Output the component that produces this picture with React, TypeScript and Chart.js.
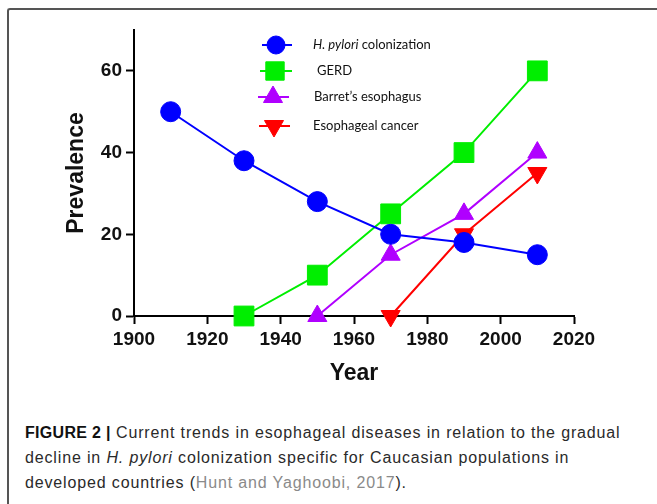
import React, { useEffect, useRef } from "react";
import { Chart, registerables } from "chart.js";
import { drawPoint } from "chart.js/helpers";

Chart.register(...registerables);

const SERIES_NAMES = ["H. pylori colonization", "GERD", "Barret\u2019s esophagus", "Esophageal cancer"];
const HP_YEARS = [1910, 1930, 1950, 1970, 1990, 2010];
const HP_VALUES = [50, 38, 28, 20, 18, 15];
const GERD_YEARS = [1930, 1950, 1970, 1990, 2010];
const GERD_VALUES = [0, 10, 25, 40, 60];
const BARRETT_YEARS = [1950, 1970, 1990, 2010];
const BARRETT_VALUES = [0, 15, 25, 40];
const CANCER_YEARS = [1970, 1990, 2010];
const CANCER_VALUES = [0, 20, 35];
const Y_TICKS = [0, 20, 40, 60];
const X_TICKS = [1900, 1920, 1940, 1960, 1980, 2000, 2020];

const COLORS = ["#0000ff", "#00ee00", "#b000ff", "#ff0000"];

const pts = (xs: number[], ys: number[]) => xs.map((x, i) => ({ x, y: ys[i] }));

const legendPlugin = {
  id: "customLegend",
  afterDraw(chart: any) {
    const ctx = chart.ctx as CanvasRenderingContext2D;
    const rows = [
      { y: 45, x0: 262, x1: 292, mx: 276, tx: 313 },
      { y: 71, x0: 260, x1: 292, mx: 275, tx: 317 },
      { y: 97, x0: 258, x1: 289, mx: 273, tx: 314 },
      { y: 126, x0: 259, x1: 290, mx: 274, tx: 313 },
    ];
    chart.data.datasets.forEach((ds: any, i: number) => {
      const r = rows[i];
      ctx.save();
      ctx.strokeStyle = ds.borderColor;
      ctx.lineWidth = 2;
      ctx.beginPath();
      ctx.moveTo(r.x0, r.y);
      ctx.lineTo(r.x1, r.y);
      ctx.stroke();
      ctx.fillStyle = ds.pointBackgroundColor;
      ctx.strokeStyle = ds.pointBorderColor;
      ctx.lineWidth = 1;
      drawPoint(ctx, { pointStyle: ds.pointStyle, radius: ds.legendRadius, rotation: ds.pointRotation || 0, borderWidth: 1 }, r.mx, r.y);
      ctx.fillStyle = "#111";
      ctx.textBaseline = "middle";
      ctx.textAlign = "left";
      const name: string = ds.label;
      if (name.startsWith("H. pylori")) {
        ctx.font = "italic 13px Lato";
        const it = "H. pylori";
        ctx.fillText(it, r.tx, r.y);
        const w = ctx.measureText(it).width;
        ctx.font = "13px Lato";
        ctx.fillText(name.slice(it.length), r.tx + w, r.y);
      } else {
        ctx.font = "13px Lato";
        ctx.fillText(name, r.tx, r.y);
      }
      ctx.restore();
    });
  },
};

export default function App() {
  const ref = useRef<HTMLCanvasElement | null>(null);
  useEffect(() => {
    if (!ref.current) return;
    const tickFont = { family: "'Liberation Sans', Arial, sans-serif", size: 19, weight: "bold" as const };
    const titleFont = { family: "'Liberation Sans', Arial, sans-serif", size: 23, weight: "bold" as const };
    const mk = (i: number, data: any, style: string, radius: number, legendRadius: number, rotation = 0) => ({
      label: SERIES_NAMES[i],
      data,
      borderColor: COLORS[i],
      backgroundColor: COLORS[i],
      pointBackgroundColor: COLORS[i],
      pointBorderColor: COLORS[i],
      pointBorderWidth: 1,
      pointStyle: style,
      pointRadius: radius,
      pointRotation: rotation,
      legendRadius,
      borderWidth: 2,
      showLine: true,
      clip: false,
    });
    const chart = new Chart(ref.current, {
      type: "scatter",
      data: {
        datasets: [
          mk(0, pts(HP_YEARS, HP_VALUES), "circle", 10, 9),
          mk(1, pts(GERD_YEARS, GERD_VALUES), "rect", 14, 13),
          mk(2, pts(BARRETT_YEARS, BARRETT_VALUES), "triangle", 11, 11),
          mk(3, pts(CANCER_YEARS, CANCER_VALUES), "triangle", 11, 11, 180),
        ] as any,
      },
      options: {
        animation: false,
        responsive: false,
        maintainAspectRatio: false,
        layout: { padding: { left: 0, top: 30, right: 83, bottom: 0 } },
        plugins: { legend: { display: false }, tooltip: { enabled: false } },
        scales: {
          x: {
            type: "linear",
            min: 1900,
            max: 2020,
            afterBuildTicks: (s: any) => {
              s.ticks = X_TICKS.map((v) => ({ value: v }));
            },
            afterFit: (s: any) => {
              s.height = 84;
            },
            grid: { display: true, drawOnChartArea: false, drawTicks: true, tickLength: 8, tickWidth: 2, tickColor: "#000" },
            border: { display: true, color: "#000", width: 2 },
            ticks: { font: tickFont, color: "#111", padding: 4, maxRotation: 0, autoSkip: false, callback: (v: any) => String(v) },
            title: { display: true, text: "Year", font: titleFont, color: "#111", padding: { top: 0, bottom: 13 } },
          },
          y: {
            type: "linear",
            min: 0,
            max: 70,
            afterBuildTicks: (s: any) => {
              s.ticks = Y_TICKS.map((v) => ({ value: v }));
            },
            afterFit: (s: any) => {
              s.width = 134;
            },
            grid: { display: true, drawOnChartArea: false, drawTicks: true, tickLength: 8, tickWidth: 2, tickColor: "#000" },
            border: { display: true, color: "#000", width: 2 },
            ticks: { font: tickFont, color: "#111", padding: 4, callback: (v: any) => String(v) },
            title: { display: true, text: "Prevalence", font: titleFont, color: "#111", padding: { top: 63, bottom: 0 } },
          },
        },
      } as any,
      plugins: [legendPlugin],
    });
    return () => chart.destroy();
  }, []);

  return (
    <div style={{ position: "fixed", left: 0, top: 0, width: 657, height: 504, overflow: "hidden", background: "#fff" }}>
      <div
        style={{
          position: "absolute",
          left: 7,
          top: 8,
          width: 700,
          height: 600,
          borderTop: "2px solid #555",
          borderLeft: "2px solid #555",
          borderTopLeftRadius: 3,
        }}
      />
      <canvas ref={ref} width={657} height={400} style={{ position: "absolute", left: 0, top: 0, width: 657, height: 400 }} />
      <div
        style={{
          position: "absolute",
          left: 25,
          top: 420,
          fontFamily: "'Liberation Sans', Arial, sans-serif",
          fontSize: 16,
          letterSpacing: "0.85px",
          lineHeight: "25px",
          color: "#2a2a2a",
          whiteSpace: "nowrap",
        }}
      >
        <b style={{ color: "#111", letterSpacing: "0.3px" }}>FIGURE 2 |</b> Current trends in esophageal diseases in relation to the gradual
        <br />
        decline in <i>H. pylori</i> colonization specific for Caucasian populations in
        <br />
        developed countries (<span style={{ color: "#8a8a8a" }}>Hunt and Yaghoobi, 2017</span>).
      </div>
    </div>
  );
}
